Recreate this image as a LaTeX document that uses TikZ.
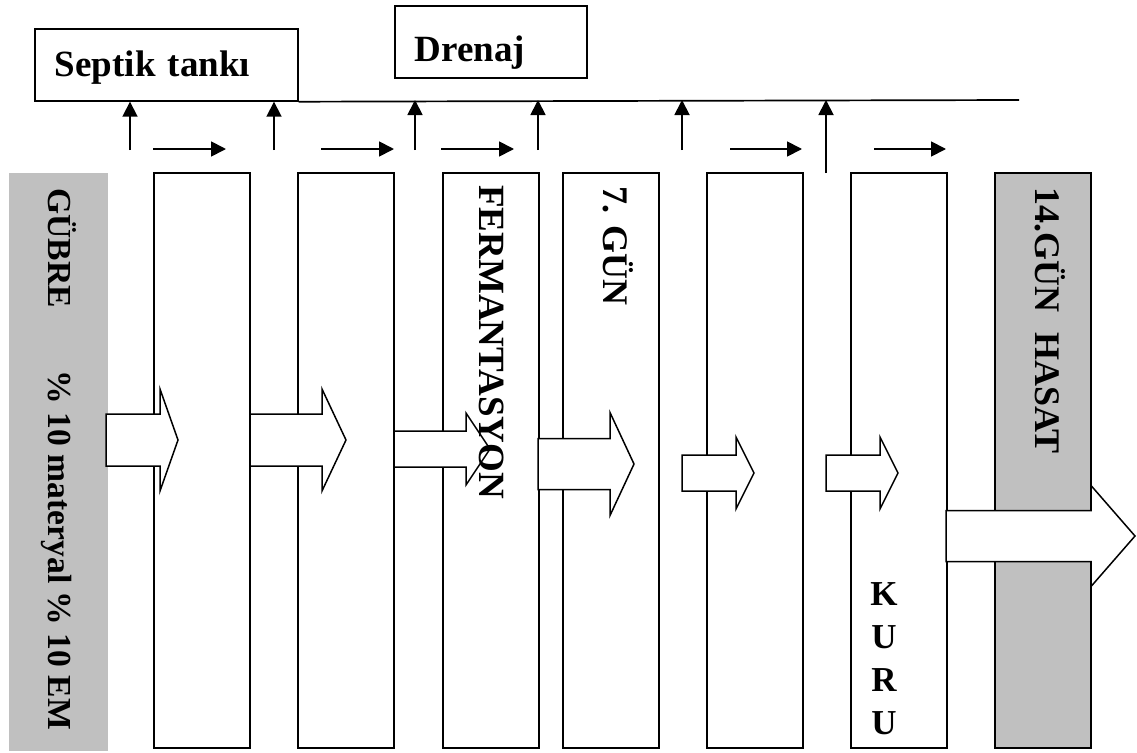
\documentclass[tikz,border=0pt]{standalone}
\usepackage{fontspec}
\setmainfont{Liberation Serif}
\usetikzlibrary{arrows.meta}
\definecolor{silvergray}{HTML}{C0C0C0}
% block arrow: shaft start, head base, tip, centre y, half shaft, half head
\newcommand{\blockarrow}[6]{%
  \draw[blockarr] (#1,{#4-#5}) -- (#2,{#4-#5}) -- (#2,{#4-#6}) -- (#3,#4)
    -- (#2,{#4+#6}) -- (#2,{#4+#5}) -- (#1,{#4+#5}) -- cycle;}

\begin{document}
\begin{tikzpicture} [x=1pt, y=-1pt,
  col/.style={draw, line width=1.6pt, fill=white, minimum width=96pt,
    minimum height=575pt, anchor=north west, inner sep=0pt},
  graycol/.style={col, fill=silvergray},
  topbox/.style={draw, line width=1.7pt, anchor=north west, minimum height=72pt,
    inner xsep=20pt, inner ysep=0pt, align=left,
    font=\fontsize{37}{44}\selectfont\bfseries},
  vtext/.style={rotate=-90, anchor=base west, inner sep=0pt,
    font=\fontsize{#1}{44}\selectfont\bfseries},
  blockarr/.style={draw, line width=1.5pt, fill=white, line join=miter},
  flowarr/.style={line width=1.8pt, -{Triangle[length=15pt, width=15pt]}}]
\fill[white] (0,0) rectangle (1137,752);
\useasboundingbox (0,0) rectangle (1137,752);

% columns
\node [graycol, draw=none, minimum width=99pt, minimum height=578pt] (gubre) at (8,172) {};
\node [col] (c1) at (153,172) {};
\node [col] (c2) at (297,172) {};
\node [col] (c3) at (442,172) {};
\node [col] (c4) at (562,172) {};
\node [col] (c5) at (706,172) {};
\node [col] (c6) at (850,172) {};
\node [graycol] (hasat) at (994,172) {};

% top boxes and drain line
\node [topbox, text width=223pt, text height=30pt, text depth=6pt] (septik) at (34,28) {Septik tankı};
\node [topbox, text width=152pt, text height=40pt, text depth=0pt] (drenaj) at (394,5) {Drenaj};
\draw [line width=1.7pt] (septik.south east) -- (1019,100) coordinate (dend);

% up arrows
\coordinate (u1) at (130,150);
\coordinate (u2) at (274,150);
\coordinate (u3) at (415,150);
\coordinate (u4) at (538,150);
\coordinate (u5) at (682,150);
\coordinate (u6) at (826,173);
\draw [flowarr] (u1) -- (u1 |- septik.south);
\draw [flowarr] (u2) -- (u2 |- septik.south);
\draw [flowarr] (u3) -- (u3 |- dend);
\draw [flowarr] (u4) -- (u4 |- dend);
\draw [flowarr] (u5) -- (u5 |- dend);
\draw [flowarr] (u6) -- (u6 |- dend);

% right arrows
\coordinate (r1) at (153,149); \coordinate (r1e) at (226,149);
\coordinate (r2) at (321,149); \coordinate (r2e) at (394,149);
\coordinate (r3) at (441,149); \coordinate (r3e) at (514,149);
\coordinate (r4) at (730,149); \coordinate (r4e) at (802,149);
\coordinate (r5) at (874,149); \coordinate (r5e) at (946,149);
\draw [flowarr] (r1) -- (r1e);
\draw [flowarr] (r2) -- (r2e);
\draw [flowarr] (r3) -- (r3e);
\draw [flowarr] (r4) -- (r4e);
\draw [flowarr] (r5) -- (r5e);

% block arrows
\blockarrow{106}{160}{178}{440}{26}{51}
\blockarrow{250}{322}{346}{440}{26}{51}
\blockarrow{394}{466}{490}{449}{18}{36}
\blockarrow{538}{610}{634}{464}{25.5}{51.5}
\blockarrow{682}{736}{754}{473}{18}{36}
\blockarrow{826}{880}{898}{473}{18}{36}
\blockarrow{946}{1091}{1135}{536}{25.5}{50.5}

% labels
\node [vtext=33.6] (gubretext) at (48.5,188) {GÜBRE\hspace{63pt}\% 10 materyal \% 10 EM};
\node [vtext=37] (fermtext) at (479,185) {FERMANTASYON};
\node [vtext=36] (guntext) at (603,186) {7. GÜN};
\node [vtext=36] (hasattext) at (1035,187) {14.GÜN\hspace{20pt}HASAT};
\node [anchor=north, align=center, inner sep=0pt,
  font=\fontsize{35}{43}\selectfont\bfseries] (kurutext) at (884,582) {K\\U\\R\\U};
\end{tikzpicture}
\end{document}
